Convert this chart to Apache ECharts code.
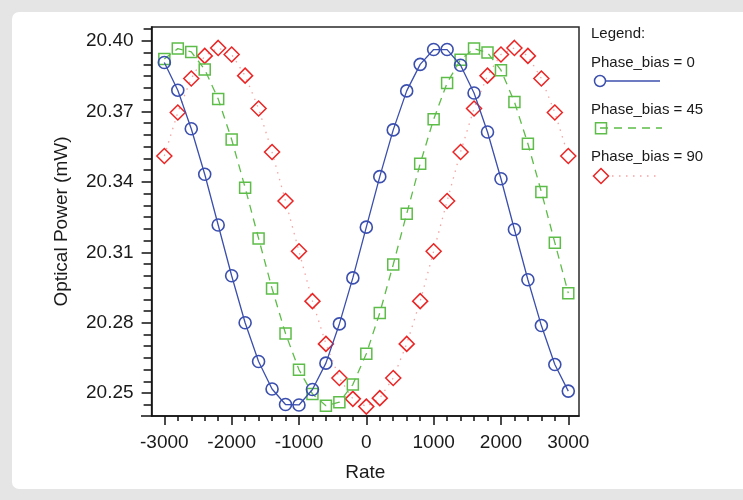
<!DOCTYPE html>
<html>
<head>
<meta charset="utf-8">
<script src="https://cdn.jsdelivr.net/npm/echarts@6/dist/echarts.min.js"></script>
<style>
  html, body { margin: 0; padding: 0; width: 743px; height: 500px; background: #e5e5e5; overflow: hidden; }
  #panel { position: absolute; left: 12px; top: 12px; width: 740px; height: 477px; background: #fff; border-radius: 7px; }
  #chart { position: absolute; left: 0; top: 0; width: 743px; height: 500px; }
</style>
</head>
<body>
<div id="panel"></div>
<div id="chart"></div>
<script>
// ---- data ----
const rates = [-3000, -2800, -2600, -2400, -2200, -2000, -1800, -1600, -1400, -1200, -1000, -800, -600, -400, -200, 0,
  200, 400, 600, 800, 1000, 1200, 1400, 1600, 1800, 2000, 2200, 2400, 2600, 2800, 3000];
const bias0 = [20.3908, 20.379, 20.3626, 20.3432, 20.3216, 20.300, 20.280, 20.2635, 20.2518, 20.2452, 20.245, 20.2516,
  20.2628, 20.2795, 20.2991, 20.3207, 20.3422, 20.3621, 20.3787, 20.390, 20.3963, 20.3963, 20.3896, 20.3778, 20.3612,
  20.3413, 20.3197, 20.2983, 20.2788, 20.2622, 20.2509];
const bias45 = [20.3923, 20.3967, 20.3953, 20.3878, 20.3753, 20.358, 20.3375, 20.3159, 20.2946, 20.2754, 20.26, 20.2497,
  20.2447, 20.2462, 20.2537, 20.2668, 20.2842, 20.3048, 20.3264, 20.3477, 20.3666, 20.3821, 20.392, 20.3967, 20.395,
  20.3875, 20.374, 20.3562, 20.3357, 20.3141, 20.2926];
const bias90 = [20.351, 20.3695, 20.384, 20.3936, 20.397, 20.3942, 20.3852, 20.3712, 20.3527, 20.3318, 20.3104, 20.2892,
  20.271, 20.2565, 20.2476, 20.2443, 20.2479, 20.2565, 20.271, 20.2892, 20.3104, 20.3318, 20.3527, 20.3712, 20.3852,
  20.3942, 20.397, 20.3936, 20.384, 20.3695, 20.351];
const seriesNames = ['Phase_bias = 0', 'Phase_bias = 45', 'Phase_bias = 90'];
const xMajorTicks = [-3000, -2000, -1000, 0, 1000, 2000, 3000];
const xMinorTicks = [-3000, -2800, -2600, -2400, -2200, -2000, -1800, -1600, -1400, -1200, -1000, -800, -600, -400, -200, 0,
  200, 400, 600, 800, 1000, 1200, 1400, 1600, 1800, 2000, 2200, 2400, 2600, 2800, 3000];
const yMajorTicks = [20.25, 20.28, 20.31, 20.34, 20.37, 20.40];
const yMinorTicks = [20.245, 20.25, 20.255, 20.26, 20.265, 20.27, 20.275, 20.28, 20.285, 20.29, 20.295, 20.30, 20.305,
  20.31, 20.315, 20.32, 20.325, 20.33, 20.335, 20.34, 20.345, 20.35, 20.355, 20.36, 20.365, 20.37, 20.375, 20.38,
  20.385, 20.39, 20.395, 20.40, 20.405];

// ---- chart ----
const FONT = 'Liberation Sans, Arial, sans-serif';
const C0 = '#3b4fae', C45 = '#5dbd48', C90 = '#ec2424';
const chart = echarts.init(document.getElementById('chart'), null, { renderer: 'canvas' });
const XMIN = -3189, XMAX = 3159, YMIN = 20.2403, YMAX = 20.4059;
const GL = 151.6, GT = 27, GW = 427.4, GH = 389;

function pairs(ys) { return rates.map((x, i) => [x, ys[i]]); }

const option = {
  animation: false,
  backgroundColor: 'transparent',
  grid: { left: GL, top: GT, width: GW, height: GH, show: true, borderColor: '#2a2a2a', borderWidth: 1.5, backgroundColor: 'transparent' },
  xAxis: [
    {
      type: 'value', min: XMIN, max: XMAX, position: 'bottom',
      name: 'Rate', nameLocation: 'middle', nameGap: 47,
      nameTextStyle: { fontFamily: FONT, fontSize: 19, color: '#1a1a1a' },
      axisLine: { show: true, onZero: false, lineStyle: { color: '#111', width: 1.5 } },
      axisTick: { show: true, customValues: xMajorTicks, length: 9, lineStyle: { color: '#111', width: 1.5 } },
      axisLabel: { show: true, customValues: xMajorTicks, margin: 17, fontFamily: FONT, fontSize: 19, color: '#1a1a1a',
        formatter: v => String(Math.round(v)) },
      splitLine: { show: false }
    },
    {
      type: 'value', min: XMIN, max: XMAX, position: 'bottom', gridIndex: 0,
      axisLine: { show: false, onZero: false },
      axisTick: { show: true, customValues: xMinorTicks, length: 5, lineStyle: { color: '#111', width: 1.5 } },
      axisLabel: { show: false },
      splitLine: { show: false }
    }
  ],
  yAxis: [
    {
      type: 'value', min: YMIN, max: YMAX, position: 'left',
      name: 'Optical Power (mW)', nameLocation: 'middle', nameGap: 80, nameRotate: 90,
      nameTextStyle: { fontFamily: FONT, fontSize: 19, color: '#1a1a1a' },
      axisLine: { show: true, onZero: false, lineStyle: { color: '#111', width: 1.5 } },
      axisTick: { show: true, customValues: yMajorTicks, length: 10, lineStyle: { color: '#111', width: 1.5 } },
      axisLabel: { show: true, customValues: yMajorTicks, margin: 18, fontFamily: FONT, fontSize: 19, color: '#1a1a1a',
        formatter: v => Number(v).toFixed(2) },
      splitLine: { show: false }
    },
    {
      type: 'value', min: YMIN, max: YMAX, position: 'left', gridIndex: 0,
      axisLine: { show: false, onZero: false },
      axisTick: { show: true, customValues: yMinorTicks, length: 8, lineStyle: { color: '#111', width: 1.5 } },
      axisLabel: { show: false },
      splitLine: { show: false }
    }
  ],
  series: [
    {
      name: seriesNames[0], type: 'line', xAxisIndex: 0, yAxisIndex: 0, data: pairs(bias0),
      symbol: 'circle', symbolSize: 12, showAllSymbol: true,
      lineStyle: { color: C0, width: 1.3, type: 'solid' },
      itemStyle: { color: 'rgba(255,255,255,0)', borderColor: C0, borderWidth: 1.6 }, z: 3
    },
    {
      name: seriesNames[1], type: 'line', xAxisIndex: 0, yAxisIndex: 0, data: pairs(bias45),
      symbol: 'rect', symbolSize: 11, showAllSymbol: true,
      lineStyle: { color: C45, width: 1.3, type: [8, 6] },
      itemStyle: { color: 'rgba(255,255,255,0)', borderColor: C45, borderWidth: 1.5 }, z: 2
    },
    {
      name: seriesNames[2], type: 'line', xAxisIndex: 0, yAxisIndex: 0, data: pairs(bias90),
      symbol: 'diamond', symbolSize: 15, showAllSymbol: true,
      lineStyle: { color: '#f5a3a3', width: 1.3, type: [1.5, 5.5] },
      itemStyle: { color: 'rgba(255,255,255,0)', borderColor: C90, borderWidth: 1.5 }, z: 1
    }
  ],
  graphic: [
    { type: 'line', shape: { x1: 141, y1: GT + GH, x2: GL, y2: GT + GH }, style: { stroke: '#111', lineWidth: 1.5 } },
    { type: 'text', left: 591, top: 26, style: { text: 'Legend:', font: '15px ' + FONT, fill: '#1a1a1a' } },
    { type: 'text', left: 591, top: 55, style: { text: seriesNames[0], font: '15px ' + FONT, fill: '#1a1a1a' } },
    { type: 'line', shape: { x1: 600, y1: 81, x2: 660, y2: 81 }, style: { stroke: C0, lineWidth: 1.3 } },
    { type: 'circle', shape: { cx: 600, cy: 81, r: 5.5 }, style: { stroke: C0, fill: '#fff', lineWidth: 1.5 } },
    { type: 'text', left: 591, top: 102, style: { text: seriesNames[1], font: '15px ' + FONT, fill: '#1a1a1a' } },
    { type: 'line', shape: { x1: 600, y1: 128, x2: 662, y2: 128 }, style: { stroke: C45, lineWidth: 1.3, lineDash: [8, 6] } },
    { type: 'rect', shape: { x: 595.5, y: 122.8, width: 11, height: 11 }, style: { stroke: C45, fill: 'rgba(255,255,255,0)', lineWidth: 1.5 } },
    { type: 'text', left: 591, top: 149, style: { text: seriesNames[2], font: '15px ' + FONT, fill: '#1a1a1a' } },
    { type: 'line', shape: { x1: 612, y1: 176, x2: 656, y2: 176 }, style: { stroke: '#f5a3a3', lineWidth: 1.3, lineDash: [1.5, 5.5] } },
    { type: 'polygon', shape: { points: [[601, 168.5], [608.5, 176], [601, 183.5], [593.5, 176]] }, style: { stroke: C90, fill: '#fff', lineWidth: 1.5 } }
  ]
};
chart.setOption(option);
</script>
</body>
</html>
